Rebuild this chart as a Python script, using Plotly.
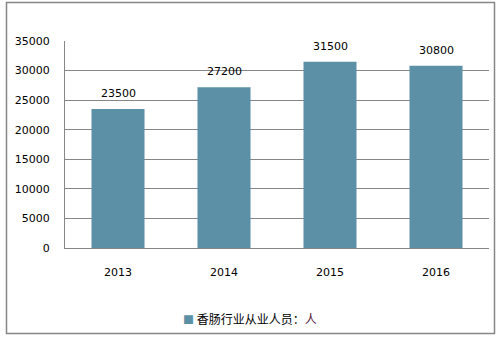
import plotly.graph_objects as go

years = ["2013", "2014", "2015", "2016"]
values = [23500, 27200, 31500, 30800]
y_ticks = [0, 5000, 10000, 15000, 20000, 25000, 30000, 35000]
series_name = "香肠行业从业人员："
unit = "人"

W, H = 499, 339
L, R, T, B = 65, 10, 41, 91
pw, ph = W - L - R, H - T - B
bar_color = "#5B90A7"

fig = go.Figure(go.Bar(
    x=years, y=values, name=series_name + unit,
    marker=dict(color=bar_color, line=dict(width=0)),
    width=0.5, showlegend=False,
))

annotations = [dict(x=i, y=v, xref="x", yref="y", text=str(v), showarrow=False,
                    yanchor="bottom", yshift=7,
                    font=dict(size=11, color="#000000", family="DejaVu Sans"))
               for i, v in enumerate(values)]
annotations.append(dict(
    x=(250 - L) / pw, y=(H - B - 318) / ph, xref="paper", yref="paper",
    xanchor="center", yanchor="middle", showarrow=False,
    text=f"<span style='color:{bar_color};font-size:11px'>■</span> {series_name}<span style='color:#5a2040'>{unit}</span>",
    font=dict(size=12, family="Noto Sans CJK SC", color="#000000"),
))

fig.update_layout(
    width=W, height=H,
    margin=dict(l=L, r=R, t=T, b=B),
    paper_bgcolor="white", plot_bgcolor="white",
    font=dict(family="DejaVu Sans", size=11, color="#000000"),
    xaxis=dict(type="category", range=[-0.5, len(years) - 0.5],
               showline=True, linecolor="#868686", linewidth=1, ticks="",
               showgrid=False, ticklabelstandoff=14,
               tickfont=dict(size=11)),
    yaxis=dict(range=[0, 35000], tickvals=y_ticks,
               ticktext=[str(t) for t in y_ticks], showline=True,
               linecolor="#868686", linewidth=1, gridcolor="#868686",
               gridwidth=1, ticks="", ticklabelstandoff=12,
               zeroline=False, tickfont=dict(size=11)),
    annotations=annotations,
    shapes=[dict(type="rect", xref="paper", yref="paper",
                 x0=(6.5 - L) / pw, x1=(494.5 - L) / pw,
                 y0=(H - B - 333.5) / ph, y1=(H - B - 2.5) / ph,
                 line=dict(color="#868686", width=1.5), fillcolor="rgba(0,0,0,0)",
                 layer="below")],
)

fig.write_html("out.html")
